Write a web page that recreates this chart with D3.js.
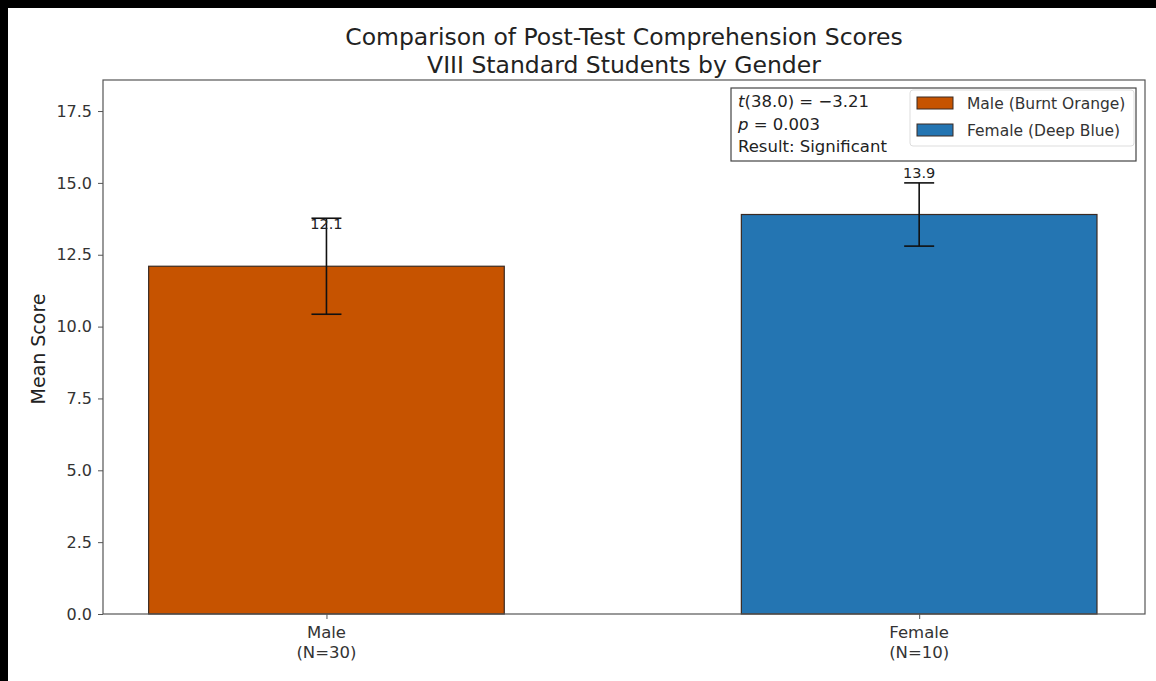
<!DOCTYPE html>
<html>
<head>
<meta charset="utf-8">
<script src="https://cdn.jsdelivr.net/npm/d3@7/dist/d3.min.js"></script>
<style>
  html, body { margin: 0; padding: 0; background: #fff; }
  svg { display: block; font-family: "DejaVu Sans", "Open Sans", sans-serif; }
</style>
</head>
<body>
<svg id="chart" width="1156" height="681"></svg>
<script>
// Post-test comprehension scores, VIII standard, by gender
const groups = ["Male", "Female"];
const groupNs = [30, 10];
const meanScores = [12.1, 13.9];
const errors = [1.67, 1.1];
const barColors = ["#C65300", "#2475B2"];
const legendLabels = ["Male (Burnt Orange)", "Female (Deep Blue)"];
const yTicks = [0, 2.5, 5, 7.5, 10, 12.5, 15, 17.5];
const statLines = ["t(38.0) = \u22123.21", "p = 0.003", "Result: Significant"];

const svg = d3.select("#chart");
const W = 1156, H = 681;
const plot = { left: 103, right: 1145, top: 80, bottom: 614 };
const FONT = "'DejaVu Sans', sans-serif";

// page frame
svg.append("rect").attr("x", 0).attr("y", 0).attr("width", W).attr("height", 8).attr("fill", "#000");
svg.append("rect").attr("x", 0).attr("y", 0).attr("width", 8).attr("height", H).attr("fill", "#000");

const x = d3.scaleLinear().domain([-0.377, 1.381]).range([plot.left, plot.right]);
const y = d3.scaleLinear().domain([0, 18.58]).range([plot.bottom, plot.top]);
const barW = 0.6;

// title
const title = svg.append("text").attr("text-anchor", "middle").attr("fill", "#222").attr("font-size", 23.5);
title.append("tspan").attr("x", 624).attr("y", 45).text("Comparison of Post-Test Comprehension Scores");
title.append("tspan").attr("x", 624).attr("y", 73).text("VIII Standard Students by Gender");

// bars
const bars = svg.append("g");
groups.forEach((g, i) => {
  bars.append("rect")
    .attr("x", x(i - barW / 2))
    .attr("y", y(meanScores[i]))
    .attr("width", x(i + barW / 2) - x(i - barW / 2))
    .attr("height", y(0) - y(meanScores[i]))
    .attr("fill", barColors[i])
    .attr("stroke", "#3a2a22")
    .attr("stroke-width", 1.2);
});

// error bars
const errG = svg.append("g").attr("stroke", "#111").attr("stroke-width", 1.6);
groups.forEach((g, i) => {
  const cx = x(i);
  const lo = y(meanScores[i] - errors[i]);
  const hi = y(meanScores[i] + errors[i]);
  errG.append("line").attr("x1", cx).attr("x2", cx).attr("y1", lo).attr("y2", hi);
  errG.append("line").attr("x1", cx - 15).attr("x2", cx + 15).attr("y1", lo).attr("y2", lo);
  errG.append("line").attr("x1", cx - 15).attr("x2", cx + 15).attr("y1", hi).attr("y2", hi);
});

// value labels, placed a fixed distance above each bar
groups.forEach((g, i) => {
  svg.append("text")
    .attr("x", x(i))
    .attr("y", y(meanScores[i] + 1.28))
    .attr("text-anchor", "middle")
    .attr("font-size", 14.5)
    .attr("fill", "#222")
    .text(meanScores[i].toFixed(1));
});

// axes frame
svg.append("rect")
  .attr("x", plot.left).attr("y", plot.top)
  .attr("width", plot.right - plot.left).attr("height", plot.bottom - plot.top)
  .attr("fill", "none").attr("stroke", "#555").attr("stroke-width", 1.2);

// y axis
const yAxis = svg.append("g")
  .attr("transform", `translate(${plot.left},0)`)
  .call(d3.axisLeft(y).tickValues(yTicks).tickFormat(d3.format(".1f")).tickSize(5).tickPadding(6));
yAxis.select(".domain").remove();
yAxis.selectAll("line").attr("stroke", "#555");
yAxis.selectAll("text").attr("font-size", 16).attr("fill", "#333").attr("font-family", FONT);

// x axis
const xAxis = svg.append("g")
  .attr("transform", `translate(0,${plot.bottom})`)
  .call(d3.axisBottom(x).tickValues([0, 1]).tickFormat("").tickSize(5));
xAxis.select(".domain").remove();
xAxis.selectAll("line").attr("stroke", "#555");
groups.forEach((g, i) => {
  const t = svg.append("text").attr("text-anchor", "middle").attr("font-size", 16.5).attr("fill", "#333");
  t.append("tspan").attr("x", x(i)).attr("y", plot.bottom + 24).text(g);
  t.append("tspan").attr("x", x(i)).attr("y", plot.bottom + 44).text(`(N=${groupNs[i]})`);
});

// y label
svg.append("text")
  .attr("transform", `translate(45,${349}) rotate(-90)`)
  .attr("text-anchor", "middle")
  .attr("font-size", 19)
  .attr("fill", "#222")
  .text("Mean Score");

// statistics box
svg.append("rect")
  .attr("x", 731).attr("y", 88).attr("width", 405).attr("height", 73)
  .attr("fill", "#fff").attr("stroke", "#444").attr("stroke-width", 1.2);
const stat = svg.append("text").attr("font-size", 16.5).attr("fill", "#222");
const l1 = stat.append("tspan").attr("x", 738).attr("y", 107);
l1.append("tspan").attr("font-style", "italic").text("t");
l1.append("tspan").text(statLines[0].slice(1));
const l2 = stat.append("tspan").attr("x", 738).attr("y", 130);
l2.append("tspan").attr("font-style", "italic").text("p");
l2.append("tspan").text(statLines[1].slice(1));
stat.append("tspan").attr("x", 738).attr("y", 152).text(statLines[2]);

// legend
const leg = svg.append("g");
leg.append("rect")
  .attr("x", 910).attr("y", 90).attr("width", 224).attr("height", 56).attr("rx", 3)
  .attr("fill", "#fff").attr("stroke", "#ddd").attr("stroke-width", 1);
legendLabels.forEach((lab, i) => {
  const cy = 103 + i * 27;
  leg.append("rect").attr("x", 917).attr("y", cy - 6).attr("width", 36).attr("height", 12)
    .attr("fill", barColors[i]).attr("stroke", "#3a2a22").attr("stroke-width", 1);
  leg.append("text").attr("x", 967).attr("y", cy + 5.5).attr("font-size", 15.5).attr("fill", "#333").text(lab);
});
</script>
</body>
</html>
